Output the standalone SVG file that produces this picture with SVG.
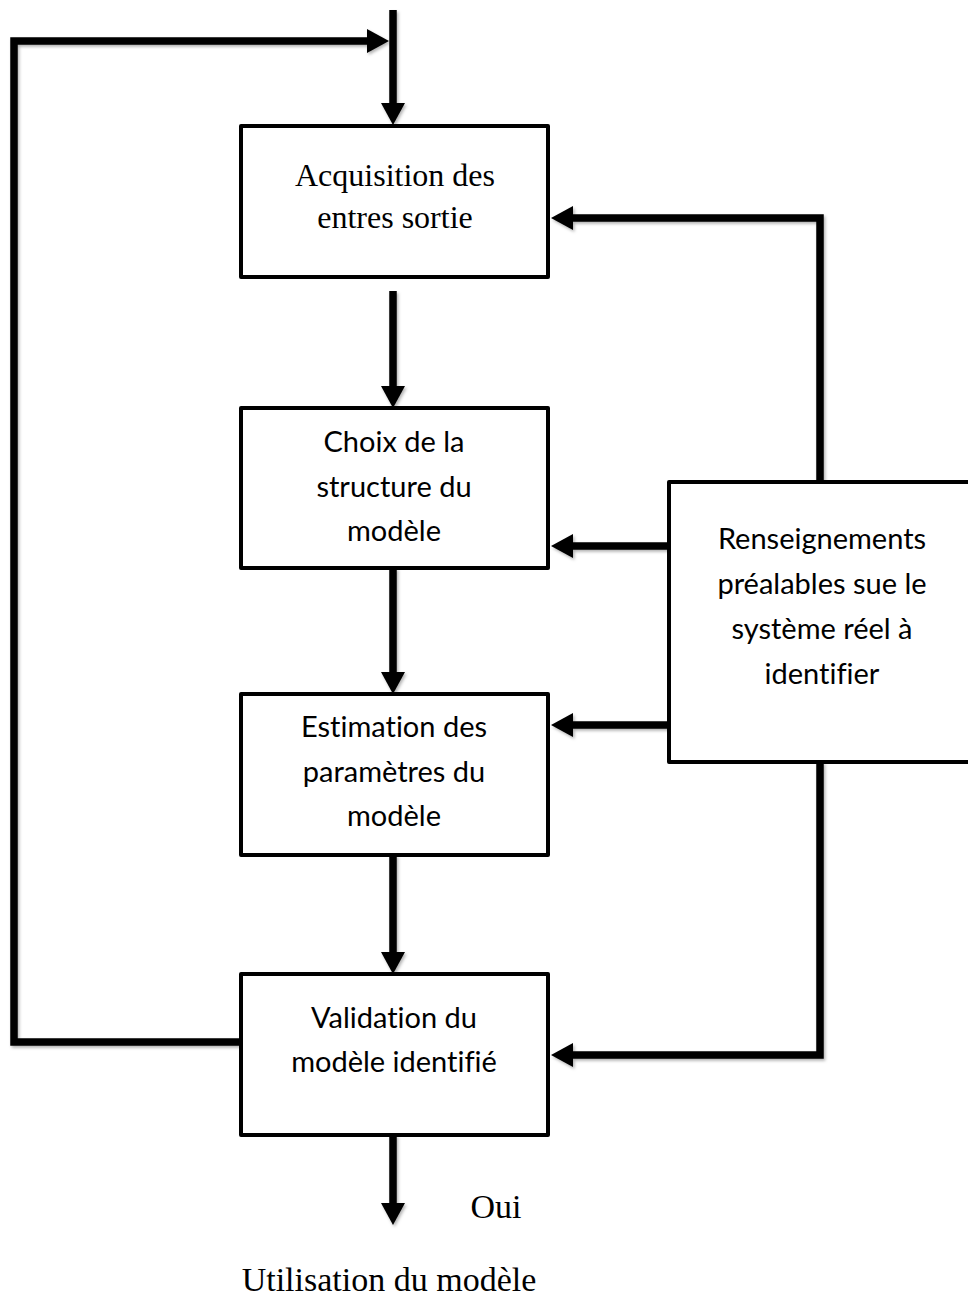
<svg xmlns="http://www.w3.org/2000/svg" width="968" height="1302" viewBox="0 0 968 1302">
<defs>
<marker id="ah" viewBox="0 0 22 24" refX="0" refY="12" markerWidth="22" markerHeight="24" markerUnits="userSpaceOnUse" orient="auto">
<path d="M0,0 L22,12 L0,24 z" fill="#000"/>
</marker>
<filter id="sh" x="-10%" y="-10%" width="120%" height="120%">
<feDropShadow dx="1.5" dy="2" stdDeviation="1.5" flood-color="#000" flood-opacity="0.3"/>
</filter>
</defs>
<style>
.box{fill:#fff;stroke:#000;stroke-width:4;stroke-linejoin:round}
.c{fill:none;stroke:#000;stroke-width:7.5;stroke-linejoin:miter;stroke-linecap:butt}
.a{marker-end:url(#ah)}
.serif{font-family:"Liberation Serif","Times New Roman",serif;font-size:32px;fill:#000;text-anchor:middle}
.big{font-size:34px}
.sans{font-family:Lato,"Liberation Sans",sans-serif;font-size:29px;fill:#000;text-anchor:middle;font-variant-ligatures:none}
</style>
<rect width="968" height="1302" fill="#fff"/>
<g id="connectors" filter="url(#sh)">
<path class="c a" d="M393 10 V103"/>
<path class="c a" d="M241 1042 H14 V41 H367"/>
<path class="c a" d="M393 291 V386"/>
<path class="c a" d="M393 568 V672"/>
<path class="c a" d="M393 855 V952"/>
<path class="c a" d="M393 1135 V1203"/>
<path class="c a" d="M820 482 V218 H573"/>
<path class="c a" d="M669 546 H573"/>
<path class="c a" d="M669 725 H573"/>
<path class="c a" d="M820 762 V1055 H573"/>
</g>
<g id="acquisition">
<rect class="box" x="241" y="126" width="307" height="151"/>
<text class="serif" x="395" y="186">Acquisition des</text>
<text class="serif" x="395" y="228">entres sortie</text>
</g>
<g id="choix">
<rect class="box" x="241" y="408" width="307" height="160"/>
<text class="sans" x="394" y="452">Choix de la</text>
<text class="sans" x="394" y="497">structure du</text>
<text class="sans" x="394" y="541">modèle</text>
</g>
<g id="estimation">
<rect class="box" x="241" y="694" width="307" height="161"/>
<text class="sans" x="394" y="737">Estimation des</text>
<text class="sans" x="394" y="782">paramètres du</text>
<text class="sans" x="394" y="826">modèle</text>
</g>
<g id="validation">
<rect class="box" x="241" y="974" width="307" height="161"/>
<text class="sans" x="394" y="1028">Validation du</text>
<text class="sans" x="394" y="1072">modèle identifié</text>
</g>
<g id="renseignements">
<rect class="box" x="669" y="482" width="310" height="280"/>
<text class="sans" x="822" y="549">Renseignements</text>
<text class="sans" x="822" y="594">préalables sue le</text>
<text class="sans" x="822" y="639">système réel à</text>
<text class="sans" x="822" y="684">identifier</text>
</g>
<g id="labels">
<text class="serif big" x="496" y="1218">Oui</text>
<text class="serif big" x="389" y="1291">Utilisation du modèle</text>
</g>
</svg>
